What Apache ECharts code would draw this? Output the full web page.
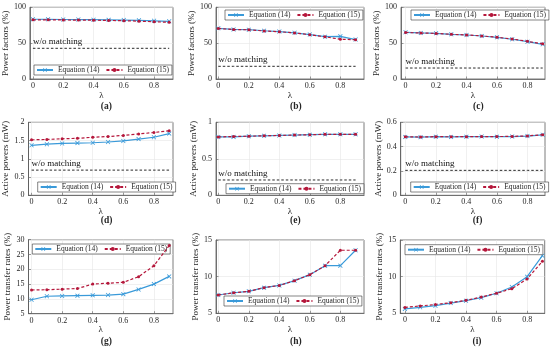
<!DOCTYPE html>
<html>
<head>
<meta charset="utf-8">
<script src="https://cdn.jsdelivr.net/npm/echarts@6/dist/echarts.min.js"></script>
<style>html,body{margin:0;padding:0;background:#fff}#c{width:550px;height:351px}</style>
</head>
<body>
<div id="c"></div>
<script>
// ---- data ----
const lambda = [0, 0.1, 0.2, 0.3, 0.4, 0.5, 0.6, 0.7, 0.8, 0.9];
const xTicks = [0, 0.2, 0.4, 0.6, 0.8];
// power factors (%)
const pfA14 = [83.3, 83.2, 83.0, 82.9, 82.7, 82.5, 82.2, 81.8, 81.2, 80.5];
const pfA15 = [82.5, 82.5, 82.3, 82.2, 82.0, 81.7, 81.3, 80.7, 79.9, 79.0];
const pfAwo = 42.8;
const pfB14 = [70.7, 69.2, 68.8, 67.3, 66.2, 64.4, 62.0, 59.0, 59.5, 55.0];
const pfB15 = [70.5, 69.0, 68.6, 67.0, 66.0, 64.2, 61.8, 58.8, 55.5, 54.8];
const pfBwo = 17.7;
const pfC14 = [65.1, 64.2, 63.7, 62.3, 61.4, 60.0, 58.1, 55.4, 52.0, 48.4];
const pfC15 = [65.0, 64.1, 63.6, 62.3, 61.4, 60.1, 58.2, 55.7, 52.5, 49.0];
const pfCwo = 15.3;
// active powers (mW)
const apD14 = [1.37, 1.40, 1.42, 1.43, 1.44, 1.46, 1.49, 1.54, 1.59, 1.69];
const apD15 = [1.52, 1.53, 1.55, 1.56, 1.59, 1.61, 1.64, 1.68, 1.72, 1.77];
const apDwo = 0.69;
const apE14 = [0.80, 0.80, 0.81, 0.815, 0.82, 0.825, 0.83, 0.835, 0.835, 0.835];
const apE15 = [0.80, 0.805, 0.81, 0.815, 0.82, 0.825, 0.83, 0.835, 0.835, 0.835];
const apEwo = 0.21;
const apF14 = [0.480, 0.478, 0.482, 0.480, 0.482, 0.483, 0.482, 0.483, 0.487, 0.497];
const apF15 = [0.481, 0.479, 0.482, 0.481, 0.482, 0.483, 0.483, 0.484, 0.488, 0.498];
const apFwo = 0.205;
// power transfer rates (%)
const ptG14 = [9.7, 10.9, 11.0, 11.1, 11.2, 11.3, 11.6, 13.2, 15.0, 17.6];
const ptG15 = [13.0, 13.1, 13.3, 13.5, 15.0, 15.3, 15.6, 17.5, 21.2, 28.0];
const ptH14 = [7.5, 7.8, 8.0, 8.5, 8.8, 9.45, 10.27, 11.5, 11.5, 13.6];
const ptH15 = [7.5, 7.8, 8.0, 8.5, 8.8, 9.45, 10.27, 11.5, 13.6, 13.6];
const ptI14 = [5.6, 5.82, 6.04, 6.4, 6.72, 7.13, 7.73, 8.59, 10.0, 12.86];
const ptI15 = [5.8, 6.0, 6.2, 6.45, 6.77, 7.22, 7.73, 8.36, 9.68, 12.1];

const yNames = ['Power factors (%)', 'Active powers (mW)', 'Power transfer rates (%)'];
const seriesNames = ['Equation (14)', 'Equation (15)'];
const woText = 'w/o matching';
const tags = ['(a)', '(b)', '(c)', '(d)', '(e)', '(f)', '(g)', '(h)', '(i)'];

// ---- layout (positions / styles) ----
const panels = [
  {g:[28.5, 7.3, 144.5, 71.7], x:[-0.02, 0.925], y:[0, 100, 50], s14:pfA14, s15:pfA15, wo:pfAwo, yn:0, lg:[34, 65], ng:17, tagY:107},
  {g:[216, 7.3, 148, 71.7], x:[-0.015, 0.955], y:[0, 100, 50], s14:pfB14, s15:pfB15, wo:pfBwo, yn:0, lg:[225, 10], ng:18, tagY:107},
  {g:[401, 7.3, 144, 71.7], x:[-0.03, 0.915], y:[0, 100, 50], s14:pfC14, s15:pfC15, wo:pfCwo, yn:0, lg:[411, 10], ng:15, tagY:107},
  {g:[28.5, 122.3, 144.5, 73], x:[-0.02, 0.925], y:[0, 2, 0.5], s14:apD14, s15:apD15, wo:apDwo, yn:1, lg:[37.7, 182], ng:17, tagY:221},
  {g:[216, 122.3, 148, 73], x:[-0.015, 0.955], y:[0, 1, 0.5], s14:apE14, s15:apE15, wo:apEwo, yn:1, lg:[226, 183.7], ng:18, tagY:221},
  {g:[400.7, 122.3, 144.3, 73], x:[-0.03, 0.915], y:[0, 0.6, 0.2], s14:apF14, s15:apF15, wo:apFwo, yn:1, lg:[410.7, 182], ng:15, tagY:221},
  {g:[28.5, 239.7, 144.5, 74], x:[-0.02, 0.925], y:[5, 30, 5], s14:ptG14, s15:ptG15, wo:null, yn:2, lg:[32.3, 244], ng:15, tagY:342},
  {g:[216, 240, 148, 73.3], x:[-0.015, 0.955], y:[5, 15, 5], s14:ptH14, s15:ptH15, wo:null, yn:2, lg:[224, 296], ng:15, tagY:342},
  {g:[400.3, 240, 144.4, 73.3], x:[-0.03, 0.915], y:[5, 15, 5], s14:ptI14, s15:ptI15, wo:null, yn:2, lg:[405, 244.7], ng:15, tagY:342}
];

const SERIF = 'Liberation Serif';
const BLUE = '#3a9ad9', RED = '#b5173b', AX = '#5a5a5a', TXT = '#262626';
const XMARK = 'path://M0,1.2L1.2,0L5,3.8L8.8,0L10,1.2L6.2,5L10,8.8L8.8,10L5,6.2L1.2,10L0,8.8L3.8,5Z';

const grid = [], xAxis = [], yAxis = [], series = [], legend = [], graphic = [];
panels.forEach((p, i) => {
  grid.push({left: p.g[0], top: p.g[1], width: p.g[2], height: p.g[3], show: true,
    borderColor: AX, borderWidth: 0.8, backgroundColor: '#fff'});
  xAxis.push({type: 'value', gridIndex: i, min: p.x[0], max: p.x[1],
    name: 'λ', nameLocation: 'middle', nameGap: 11,
    nameTextStyle: {fontFamily: SERIF, fontSize: 9, color: TXT},
    axisLine: {show: true, onZero: false, lineStyle: {color: AX, width: 0.8}},
    axisTick: {show: true, inside: true, length: 2.5, customValues: xTicks, lineStyle: {color: AX, width: 0.6}},
    axisLabel: {customValues: xTicks, fontFamily: SERIF, fontSize: 8, color: TXT, margin: 3},
    splitLine: {show: true, lineStyle: {color: '#e6e6e6', width: 0.6}}});
  yAxis.push({type: 'value', gridIndex: i, min: p.y[0], max: p.y[1], interval: p.y[2],
    name: yNames[p.yn], nameLocation: 'middle', nameGap: p.ng,
    nameTextStyle: {fontFamily: SERIF, fontSize: 9, color: TXT},
    axisLine: {show: true, onZero: false, lineStyle: {color: AX, width: 0.8}},
    axisTick: {show: true, inside: true, length: 2.5, lineStyle: {color: AX, width: 0.6}},
    axisLabel: {fontFamily: SERIF, fontSize: 8, color: TXT, margin: 4},
    splitLine: {show: true, lineStyle: {color: '#e6e6e6', width: 0.6}}});
  series.push({type: 'line', name: seriesNames[0], xAxisIndex: i, yAxisIndex: i,
    data: lambda.map((l, k) => [l, p.s14[k]]), symbol: XMARK, symbolSize: 4.5,
    lineStyle: {color: BLUE, width: 1.2}, itemStyle: {color: BLUE}, z: 3});
  series.push({type: 'line', name: seriesNames[1], xAxisIndex: i, yAxisIndex: i,
    data: lambda.map((l, k) => [l, p.s15[k]]), symbol: 'circle', symbolSize: 3,
    lineStyle: {color: RED, width: 1.2, type: [3, 2]}, itemStyle: {color: RED}, z: 4});
  if (p.wo !== null) {
    series.push({type: 'line', name: woText, xAxisIndex: i, yAxisIndex: i,
      data: lambda.map((l, k) => k === 0 ? {value: [l, p.wo], label: {show: true, formatter: woText,
        position: 'top', align: 'left', distance: 2, fontFamily: SERIF, fontSize: 9, color: '#111'}} : [l, p.wo]),
      symbol: 'circle', symbolSize: 0.01, showSymbol: true,
      lineStyle: {color: '#111', width: 0.9, type: [2.5, 2]}, itemStyle: {color: '#111'}, z: 2});
  }
  legend.push({data: seriesNames, left: p.lg[0], top: p.lg[1], orient: 'horizontal',
    itemWidth: 16, itemHeight: 5, itemGap: 6, padding: [1, 3, 1, 2],
    borderColor: '#333', borderWidth: 0.6, backgroundColor: '#fff', borderRadius: 0,
    selectedMode: false, textStyle: {fontFamily: SERIF, fontSize: 7.5, color: TXT}});
  graphic.push({type: 'text', left: p.g[0] + p.g[2] / 2, top: p.tagY - 5.5,
    style: {text: tags[i], font: 'bold 9.5px ' + SERIF, fill: TXT, textAlign: 'center'}});
});

const chart = echarts.init(document.getElementById('c'), null, {renderer: 'canvas'});
chart.setOption({backgroundColor: '#fff', animation: false, grid, xAxis, yAxis, series, legend, graphic});
</script>
</body>
</html>
